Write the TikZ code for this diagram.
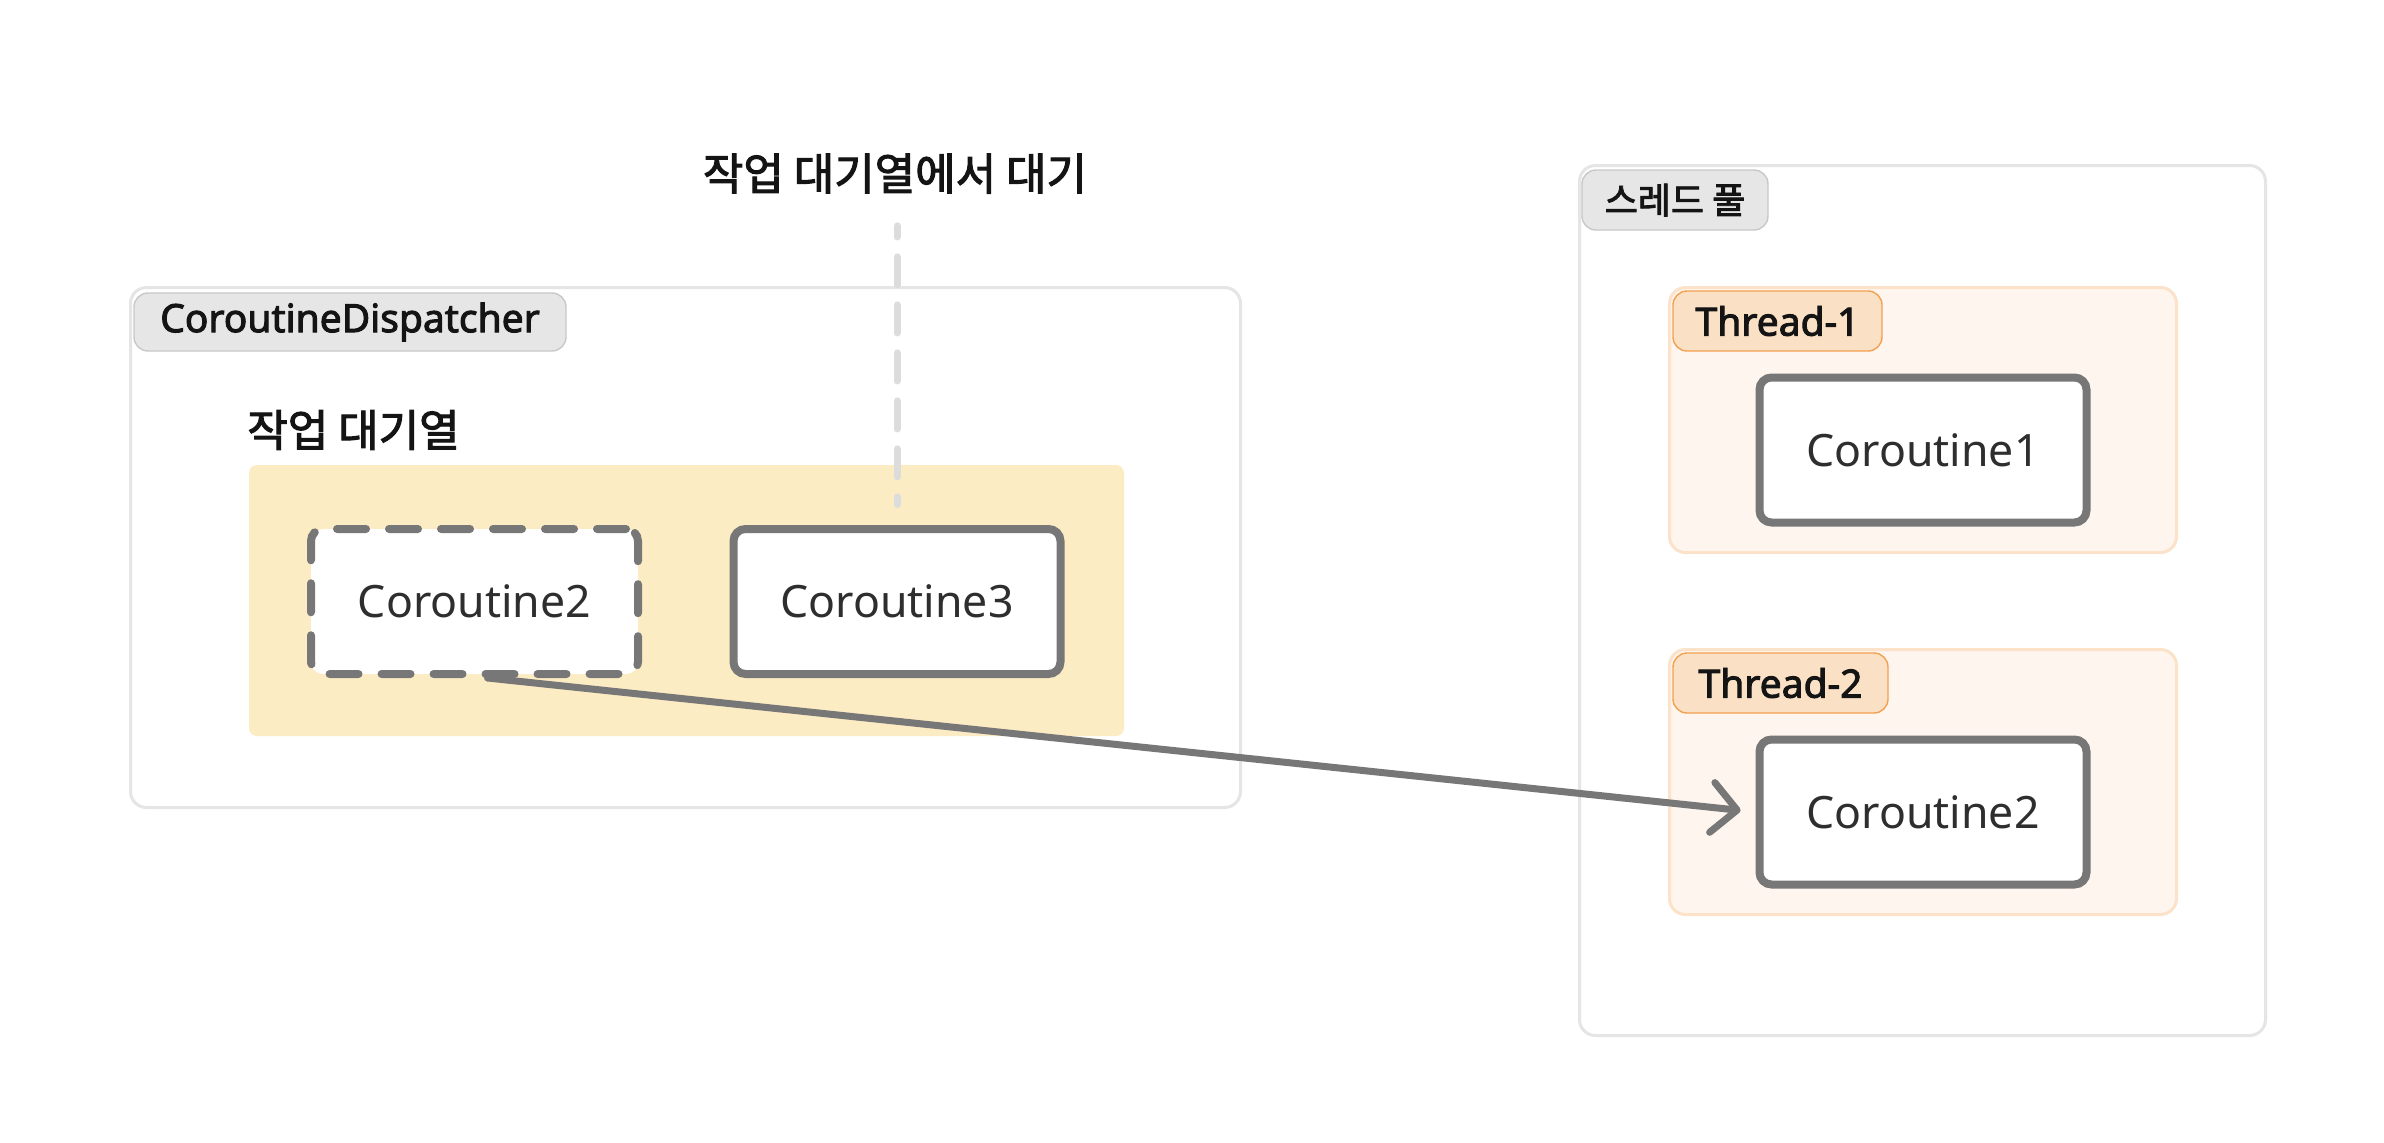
\documentclass[tikz,border=0pt]{standalone}
\usepackage{fontspec}
\setmainfont{Noto Sans}
\newfontfamily\krfont[FakeBold=2.5]{Noto Sans CJK KR}
\newfontfamily\labfont[FakeBold=2.5]{Noto Sans}
\usetikzlibrary{arrows.meta,calc}
\definecolor{outerc}{HTML}{E5E5E5}
\definecolor{pillfill}{HTML}{E6E6E6}
\definecolor{pillborder}{HTML}{C8C8C8}
\definecolor{yellowfill}{HTML}{FCECC4}
\definecolor{cogray}{HTML}{777777}
\definecolor{threadfill}{HTML}{FEF5EE}
\definecolor{threadborder}{HTML}{FBE2C8}
\definecolor{tpillfill}{HTML}{FAE1C6}
\definecolor{tpillborder}{HTML}{F3A04F}
\definecolor{dashc}{HTML}{DCDCDC}
\definecolor{textdark}{HTML}{141414}
\definecolor{cotext}{HTML}{2E2E2E}
\tikzset{
  outerbox/.style={draw=outerc, line width=1.5pt, rounded corners=8pt, fill=white, inner sep=0pt},
  graypill/.style={draw=pillborder, fill=pillfill, line width=0.7pt, rounded corners=7pt, inner sep=0pt, text=textdark},
  queuebox/.style={fill=yellowfill, rounded corners=4pt, inner sep=0pt, minimum width=437.5pt, minimum height=135.5pt},
  threadbox/.style={draw=threadborder, fill=threadfill, line width=1.5pt, rounded corners=8pt, inner sep=0pt, minimum width=253.5pt, minimum height=132.5pt},
  threadpill/.style={draw=tpillborder, fill=tpillfill, line width=0.7pt, rounded corners=7pt, inner sep=0pt, minimum height=30pt, text=textdark, font=\labfont\fontsize{19.5}{23}\selectfont},
  cobox/.style={draw=cogray, fill=white, line width=4pt, rounded corners=6pt, inner sep=0pt, minimum width=163.5pt, minimum height=72.5pt, text=cotext, font=\fontsize{22.3}{26}\selectfont},
  waitbox/.style={cobox, dash pattern=on 14.5pt off 11.5pt, line cap=round},
  vdash/.style={draw=dashc, line width=3.5pt, line cap=round, dash pattern=on 14pt off 10pt, dash phase=8.5pt},
  movearrow/.style={draw=cogray, line width=3.5pt, line cap=round, -{Straight Barb[length=12.5pt, width=25pt, line cap=round, line join=round]}},
  krlabel/.style={inner sep=0pt, text=textdark}
}
\begin{document}
\begin{tikzpicture}[x=0.5pt,y=-0.5pt]
\useasboundingbox[fill=white] (0,0) rectangle (2384,1142);
% dispatcher
\node[outerbox, minimum width=555pt, minimum height=260pt] (disp) at (685.5,547.5) {};
\node[graypill, minimum width=216pt, minimum height=29pt, font=\labfont\fontsize{19.5}{23}\selectfont] (displabel) at (350,322) {CoroutineDispatcher};
\node[krlabel, anchor=west, font=\krfont\fontsize{22}{26}\selectfont] (queuetitle) at (247,430) {작업 대기열};
\node[queuebox] (queue) at (686.5,600.5) {};
\node[waitbox] (c2a) at (474.5,601.5) {Coroutine2};
\node[cobox] (c3) at (897,601.5) {Coroutine3};
% title
\node[krlabel, font=\krfont\fontsize{22}{26}\selectfont, text height=16pt, text depth=4pt] (title) at (895,178) {작업 대기열에서 대기};
% thread pool
\node[outerbox, minimum width=343pt, minimum height=435pt] (pool) at (1922.5,600.5) {};
\node[graypill, minimum width=93pt, minimum height=30pt, font=\krfont\fontsize{18}{21}\selectfont] (poollabel) at (1675,200) {스레드 풀};
\node[threadbox] (t1) at (1923,420) {};
\node[threadpill, minimum width=104.5pt] (t1label) at (1777.5,321) {Thread-1};
\node[cobox] (c1) at (1923,450) {Coroutine1};
\node[threadbox] (t2) at (1923,782) {};
\node[threadpill, minimum width=107.5pt] (t2label) at (1780.5,683) {Thread-2};
\node[cobox] (c2b) at (1923,812) {Coroutine2};
% connectors
\draw[vdash, shorten <=13.75pt, shorten >=10.25pt] (title.south -| c3.north) -- (c3.north);
\draw[movearrow, shorten >=7.5pt] ([xshift=6.5pt]c2a.south) -- (c2b.west);
\end{tikzpicture}
\end{document}
